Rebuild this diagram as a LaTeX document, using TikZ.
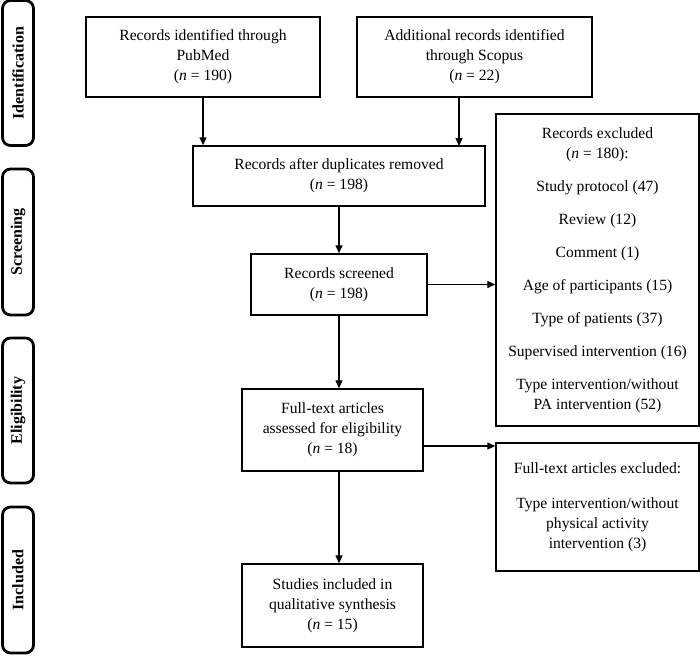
\documentclass[tikz,border=0pt]{standalone}
\usepackage{fontspec}
\setmainfont{Liberation Serif}
\usetikzlibrary{arrows.meta}
\tikzset{
  box/.style={draw, line width=1.4pt, align=center, inner sep=0pt, font=\fontsize{15.6}{20}\selectfont},
  phase/.style={draw, line width=2.8pt, rounded corners=8pt, minimum width=31pt, inner sep=0pt},
  phasetext/.style={rotate=90, font=\bfseries\fontsize{16}{18}\selectfont},
  arr/.style={line width=1.3pt, -{Triangle[length=8pt,width=7pt]}}
}
\newcommand{\nn}{\textit{n}}
\begin{document}
\begin{tikzpicture}[x=1pt,y=-1pt]
\useasboundingbox (0,0) rectangle (700,664);
% phase labels
\node[phase, minimum height=145pt] (ph1) at (18,73) {};
\node[phasetext] (t1) at (ph1.center) {Identification};
\node[phase, minimum height=146pt] (ph2) at (18,242) {};
\node[phasetext] (t2) at (ph2.center) {Screening};
\node[phase, minimum height=145pt] (ph3) at (18,410.5) {};
\node[phasetext] (t3) at (ph3.center) {Eligibility};
\node[phase, minimum height=146pt] (ph4) at (18,580) {};
\node[phasetext] (t4) at (ph4.center) {Included};
% main boxes
\node[box, minimum width=234pt, minimum height=80pt] (pm) at (203,57)
  {Records identified through\\PubMed\\(\nn{} = 190)};
\node[box, minimum width=235pt, minimum height=80pt] (sc) at (474.5,57)
  {Additional records identified\\through Scopus\\(\nn{} = 22)};
\node[box, minimum width=292pt, minimum height=60pt] (dup) at (339,176)
  {Records after duplicates removed\\(\nn{} = 198)};
\node[box, minimum width=176pt, minimum height=61pt] (scr) at (339,284.5)
  {Records screened\\(\nn{} = 198)};
\node[box, minimum width=181pt, minimum height=82pt] (ft) at (332.5,430)
  {Full-text articles\\assessed for eligibility\\(\nn{} = 18)};
\node[box, minimum width=181pt, minimum height=83pt] (st) at (332.5,605.5)
  {Studies included in\\qualitative synthesis\\(\nn{} = 15)};
\node[box, minimum width=203pt, minimum height=312pt] (ex1) at (597.5,270)
  {Records excluded\\(\nn{} = 180):\\[13pt]Study protocol (47)\\[13pt]Review (12)\\[13pt]Comment (1)\\[13pt]Age of participants (15)\\[13pt]Type of patients (37)\\[13pt]Supervised intervention (16)\\[13pt]Type intervention/without\\PA intervention (52)};
\node[box, minimum width=203pt, minimum height=128pt] (ex2) at (597.5,507)
  {Full-text articles excluded:\\[15pt]Type intervention/without\\physical activity\\intervention (3)};
% connectors
\draw[arr] (pm.south) -- (pm.south |- dup.north);
\draw[arr] (sc.south -| 459,0) -- (459,146);
\draw[arr] (dup.south -| scr.north) -- (scr.north);
\draw[arr] (scr.south) -- (scr.south |- ft.north);
\draw[arr] (scr.south |- ft.south) -- (scr.south |- st.north);
\draw[arr] (scr.east) -- (scr.east -| ex1.west);
\coordinate (fa) at (423,446);
\draw[arr] (fa) -- (fa -| ex2.west);
\end{tikzpicture}
\end{document}
